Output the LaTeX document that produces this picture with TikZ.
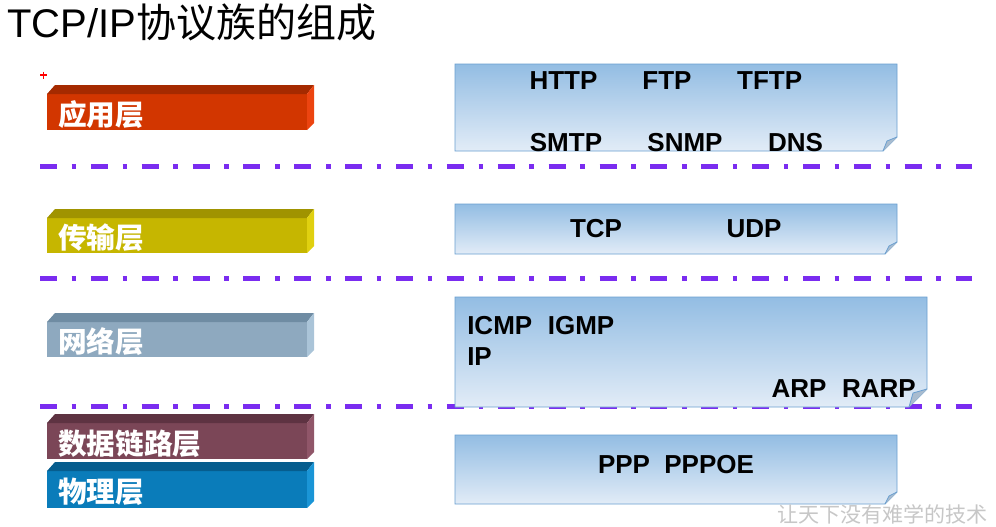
\documentclass[tikz,border=0pt]{standalone}
\usepackage{fontspec}
\setmainfont{Liberation Sans}
\newfontfamily\cjk{Noto Sans CJK SC}
\usetikzlibrary{positioning}
\definecolor{SepLine}{HTML}{7A2CF0}
\definecolor{BoxEdge}{HTML}{6A9FD0}
\definecolor{BoxTop}{HTML}{93BDE3}
\definecolor{BoxBot}{HTML}{E2ECF7}
\definecolor{FoldFill}{HTML}{A9BCCF}
\definecolor{AppFront}{HTML}{D23600}
\definecolor{AppTop}{HTML}{A52A00}
\definecolor{AppSide}{HTML}{EC4410}
\definecolor{TransFront}{HTML}{C6B600}
\definecolor{TransTop}{HTML}{A09300}
\definecolor{TransSide}{HTML}{E0D010}
\definecolor{NetFront}{HTML}{8EA9BF}
\definecolor{NetTop}{HTML}{6F8CA3}
\definecolor{NetSide}{HTML}{AAC4D8}
\definecolor{LinkFront}{HTML}{7B4657}
\definecolor{LinkTop}{HTML}{5E3342}
\definecolor{LinkSide}{HTML}{905669}
\definecolor{PhysFront}{HTML}{0A7CBA}
\definecolor{PhysTop}{HTML}{065D8E}
\definecolor{PhysSide}{HTML}{1A95D6}
\tikzset{sepline/.style={SepLine,line width=3.75pt,dash pattern=on 12.75pt off 11pt on 3.4pt off 11pt},
 protobox/.style={draw=BoxEdge,line width=.6pt,top color=BoxTop,bottom color=BoxBot},
 proto/.style={font=\bfseries\fontsize{19.5}{22}\selectfont,inner sep=0pt,anchor=base},
 layername/.style={font=\cjk\bfseries\fontsize{21.5}{24}\selectfont,text=white,anchor=west,inner sep=0pt}}

\begin{document}
\begin{tikzpicture}[x=0.75pt,y=-0.75pt]
\useasboundingbox (0,0) rectangle (996,526);
\fill[white] (0,0) rectangle (996,526);
% title
\node[anchor=base west,inner sep=0pt,font=\fontsize{30}{34}\selectfont] (title) at (7,37) {TCP/IP{\cjk 协议族的组成}};
\draw[red,line width=.8pt] (40,75)--(47,75) (43.5,71.5)--(43.5,78.5);
% layer separators
\foreach \y in {166,278,406}
 \draw[sepline] (40,\y)--(972,\y);
% layer bars
\foreach \k/\t/\b/\txt in {App/94/130/应用层,Trans/218/253/传输层,Net/322/357/网络层,Link/423/459/数据链路层,Phys/471/508/物理层}{
 \fill[\k Front] (47,\t) rectangle (307,\b);
 \fill[\k Top] (47,\t)--(55,\t-9)--(314,\t-9)--(307,\t)--cycle;
 \fill[\k Side] (307,\t)--(314,\t-9)--(314,\b-7)--(307,\b)--cycle;
 \node[layername] (lay\k) at (58,{(\t+\b)/2+2.5}) {\txt};
}
% protocol boxes
\foreach \xa/\ya/\xb/\yb/\f in {455/64/897/151/14,455/204/897/254/12,455/297/927/407/18,455/435/897/504/12}{
 \draw[protobox] (\xa,\ya)--(\xb,\ya)--(\xb,\yb-\f)--(\xb-\f,\yb)--(\xa,\yb)--cycle;
 \filldraw[draw=BoxEdge,fill=FoldFill,line width=.6pt] (\xb-\f,\yb)--(\xb-\f+4,\yb-\f+4)--(\xb,\yb-\f);
}
% protocols
\node[proto] (http) at (563.5,89) {HTTP};
\node[proto] (ftp) at (667,89) {FTP};
\node[proto] (tftp) at (769.7,89) {TFTP};
\node[proto] (smtp) at (566,151.5) {SMTP};
\node[proto] (snmp) at (685,151.5) {SNMP};
\node[proto] (dns) at (795.5,151.5) {DNS};
\node[proto] (tcp) at (596,237) {TCP};
\node[proto] (udp) at (754,237) {UDP};
\node[proto,anchor=base west] (icmp) at (467,334) {ICMP\hspace{0.6em}IGMP};
\node[proto,anchor=base west] (ip) at (467,365) {IP};
\node[proto,anchor=base east] (arp) at (916,397) {ARP\hspace{0.6em}RARP};
\node[proto] (ppp) at (676,473) {PPP\hspace{0.55em}PPPOE};
% watermark
\node[anchor=base west,inner sep=0pt,text=black!22,font=\cjk\fontsize{15.8}{18}\selectfont] (motto) at (777,522) {让天下没有难学的技术};
\end{tikzpicture}
\end{document}
